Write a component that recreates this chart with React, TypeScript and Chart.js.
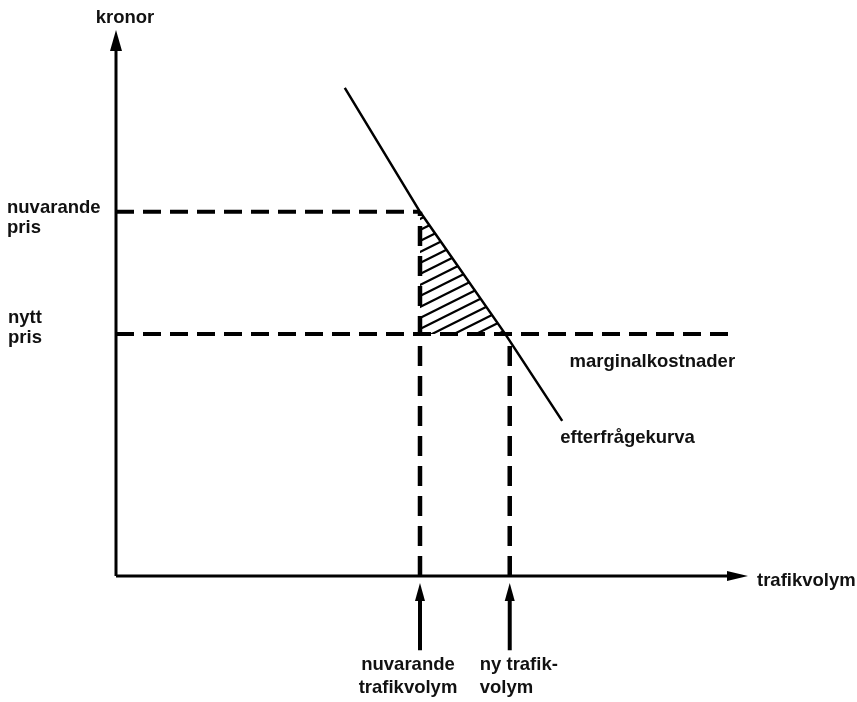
import React, { useEffect, useRef } from "react";
import { Chart, registerables } from "chart.js";

Chart.register(...registerables);

// ---- Data (abstract units: origin at 0, axis arrow tips at 100) ----
const X_MAX = 100;
const Y_MAX = 100;

const axisTitles = ["trafikvolym", "kronor"];

const priceLabels = ["nuvarande\npris", "nytt\npris"];
const priceLevels = [66.7, 44.3];

const volumeLabels = ["nuvarande\ntrafikvolym", "ny trafik-\nvolym"];
const volumeLevels = [48.1, 62.3];

const demandLabel = "efterfrågekurva";
const demandX = [36.2, 48.1, 61.6, 70.6];
const demandY = [89.4, 66.7, 44.3, 28.4];

const marginalCostLabel = "marginalkostnader";
const marginalCostEnd = 97.8;

// arrows under the x axis (y range of the arrow shafts, below the axis)
const volumeArrowTop = -1.3;
const volumeArrowBottom = -13.6;

const FONT = 'bold 18.5px "Liberation Sans", Arial, Helvetica, sans-serif';

type Lbl = { lines: string[]; ax: number; ay: number; dx: number; dy: number; lh: number; align: CanvasTextAlign };

const LABELS: Lbl[] = [
  { lines: [axisTitles[1]], ax: 0, ay: Y_MAX, dx: 9, dy: -7, lh: 0, align: "center" },
  { lines: [axisTitles[0]], ax: X_MAX, ay: 0, dx: 9, dy: 10, lh: 0, align: "left" },
  { lines: priceLabels[0].split("\n"), ax: 0, ay: priceLevels[0], dx: -109, dy: 1, lh: 20, align: "left" },
  { lines: priceLabels[1].split("\n"), ax: 0, ay: priceLevels[1], dx: -108, dy: -11, lh: 20, align: "left" },
  { lines: volumeLabels[0].split("\n"), ax: volumeLevels[0], ay: 0, dx: -12, dy: 94, lh: 23, align: "center" },
  { lines: volumeLabels[1].split("\n"), ax: volumeLevels[1], ay: 0, dx: -30, dy: 94, lh: 23, align: "left" },
  { lines: [marginalCostLabel], ax: marginalCostEnd, ay: priceLevels[1], dx: 1, dy: 33, lh: 0, align: "right" },
  { lines: [demandLabel], ax: demandX[3], ay: demandY[3], dx: -2, dy: 22, lh: 0, align: "left" },
];

function makeHatch(): CanvasPattern | string {
  const c = document.createElement("canvas");
  c.width = 22;
  c.height = 11;
  const g = c.getContext("2d");
  if (!g) return "rgba(0,0,0,0.3)";
  g.strokeStyle = "#000";
  g.lineWidth = 2.2;
  for (let k = -1; k <= 1; k++) {
    g.beginPath();
    g.moveTo(-4, 11 + 2 + k * 11);
    g.lineTo(26, 11 - 13 + k * 11);
    g.stroke();
  }
  const p = g.createPattern(c, "repeat");
  return p || "rgba(0,0,0,0.3)";
}

const overlayPlugin = {
  id: "overlay",
  afterDatasetsDraw(chart: any) {
    const { ctx } = chart;
    const xs = chart.scales.x;
    const ys = chart.scales.y;
    const px = (v: number) => xs.getPixelForValue(v);
    const py = (v: number) => ys.getPixelForValue(v);
    ctx.save();
    ctx.fillStyle = "#000";
    const arrow = (tx: number, ty: number, dir: "up" | "right", len: number, hw: number) => {
      ctx.beginPath();
      if (dir === "up") {
        ctx.moveTo(tx, ty);
        ctx.lineTo(tx - hw, ty + len);
        ctx.lineTo(tx + hw, ty + len);
      } else {
        ctx.moveTo(tx, ty);
        ctx.lineTo(tx - len, ty - hw);
        ctx.lineTo(tx - len, ty + hw);
      }
      ctx.closePath();
      ctx.fill();
    };
    arrow(px(0), py(Y_MAX), "up", 21, 6);
    arrow(px(X_MAX), py(0), "right", 21, 5);
    volumeLevels.forEach((v) => arrow(px(v), py(volumeArrowTop), "up", 18, 5));

    ctx.font = FONT;
    ctx.fillStyle = "#111";
    ctx.textBaseline = "alphabetic";
    LABELS.forEach((l) => {
      ctx.textAlign = l.align;
      l.lines.forEach((t, i) => {
        ctx.fillText(t, px(l.ax) + l.dx, py(l.ay) + l.dy + i * l.lh);
      });
    });
    ctx.restore();
  },
};

export default function App() {
  const ref = useRef<HTMLCanvasElement | null>(null);

  useEffect(() => {
    if (!ref.current) return;
    const hatch = makeHatch();
    const pts = (xs: number[], ys: number[]) => xs.map((x, i) => ({ x, y: ys[i] }));
    const base = { pointRadius: 0, clip: false as any, fill: false, tension: 0 };

    const datasets: any[] = [
      // hatched triangle (consumer surplus gain)
      {
        ...base,
        data: pts(demandX.slice(1, 3), demandY.slice(1, 3)),
        borderWidth: 0,
        borderColor: "rgba(0,0,0,0)",
        backgroundColor: hatch,
        fill: { value: priceLevels[1] },
      },
      // y axis
      { ...base, data: [{ x: 0, y: 0 }, { x: 0, y: Y_MAX - 3 }], borderColor: "#000", borderWidth: 3 },
      // x axis
      { ...base, data: [{ x: 0, y: 0 }, { x: X_MAX - 3, y: 0 }], borderColor: "#000", borderWidth: 3 },
      // demand curve
      { ...base, data: pts(demandX, demandY), borderColor: "#000", borderWidth: 2.5 },
      // current price dashed
      {
        ...base,
        data: [{ x: 0, y: priceLevels[0] }, { x: volumeLevels[0], y: priceLevels[0] }],
        borderColor: "#000",
        borderWidth: 4,
        borderDash: [18, 9],
      },
      // new price / marginal cost dashed
      {
        ...base,
        data: [{ x: 0, y: priceLevels[1] }, { x: marginalCostEnd, y: priceLevels[1] }],
        borderColor: "#000",
        borderWidth: 4,
        borderDash: [18, 9],
      },
      // current volume vertical dashed
      {
        ...base,
        data: [{ x: volumeLevels[0], y: 0 }, { x: volumeLevels[0], y: priceLevels[0] }],
        borderColor: "#000",
        borderWidth: 4.5,
        borderDash: [20, 10],
      },
      // new volume vertical dashed
      {
        ...base,
        data: [{ x: volumeLevels[1], y: 0 }, { x: volumeLevels[1], y: priceLevels[1] }],
        borderColor: "#000",
        borderWidth: 4.5,
        borderDash: [20, 10],
      },
      // arrow shafts below the axis
      ...volumeLevels.map((v) => ({
        ...base,
        data: [{ x: v, y: volumeArrowBottom }, { x: v, y: volumeArrowTop - 2 }],
        borderColor: "#000",
        borderWidth: 4,
      })),
    ];

    const chart = new Chart(ref.current, {
      type: "line",
      data: { datasets },
      options: {
        animation: false,
        responsive: false,
        events: [],
        layout: { padding: { left: 116, right: 109, top: 30, bottom: 126 } },
        plugins: { legend: { display: false }, tooltip: { enabled: false } },
        scales: {
          x: { type: "linear", min: 0, max: X_MAX, display: false },
          y: { type: "linear", min: 0, max: Y_MAX, display: false },
        },
      },
      plugins: [overlayPlugin],
    } as any);
    return () => chart.destroy();
  }, []);

  return (
    <canvas
      ref={ref}
      width={857}
      height={702}
      style={{ position: "absolute", left: 0, top: 0, display: "block", background: "#fff" }}
    />
  );
}
